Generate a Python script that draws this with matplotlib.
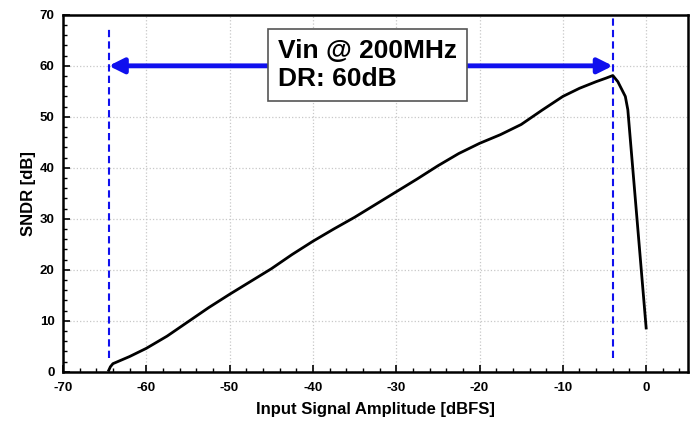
import matplotlib
matplotlib.use("Agg")
import matplotlib.pyplot as plt
from matplotlib.ticker import MultipleLocator

plt.rcParams['font.family'] = ['Liberation Sans', 'DejaVu Sans']
plt.rcParams['axes.unicode_minus'] = False

amp = [-64.5, -64.3, -64.0, -62, -60, -57.5, -55, -52.5, -50, -47.5, -45, -42.5, -40,
       -37.5, -35, -32.5, -30, -27.5, -25, -22.5, -20, -17.5, -15, -12.5, -10, -8,
       -6, -4.8, -4.0, -3.4, -2.5, -2.2, 0.0]
sndr = [0.3, 1.0, 1.6, 3.0, 4.6, 7.0, 9.8, 12.6, 15.2, 17.7, 20.2, 23.0, 25.6,
        28.0, 30.3, 32.8, 35.3, 37.8, 40.4, 42.8, 44.8, 46.5, 48.5, 51.3, 54.0, 55.6,
        56.9, 57.6, 58.1, 56.9, 54.0, 51.4, 8.6]

dr_lo, dr_hi = -64.5, -4.0
arrow_y = 60
box_text = "Vin @ 200MHz\nDR: 60dB"

fig = plt.figure(figsize=(6.99, 4.24), dpi=100)
ax = fig.add_axes([0.090, 0.123, 0.894, 0.842])

ax.set_xlim(-70, 5)
ax.set_ylim(0, 70)
ax.xaxis.set_major_locator(MultipleLocator(10))
ax.xaxis.set_minor_locator(MultipleLocator(2))
ax.yaxis.set_major_locator(MultipleLocator(10))
ax.yaxis.set_minor_locator(MultipleLocator(2))
ax.grid(True, which='major', color='#c8c8c8', linestyle=':', linewidth=0.9)
ax.tick_params(which='both', direction='in', top=False, right=False)
ax.tick_params(which='major', length=5, width=1.2, labelsize=9.5)
ax.tick_params(axis='x', which='major', pad=7)
ax.tick_params(axis='y', which='major', pad=6)
ax.tick_params(which='minor', length=3, width=1.0)
for lab in ax.get_xticklabels() + ax.get_yticklabels():
    lab.set_fontweight('bold')
for sp in ax.spines.values():
    sp.set_linewidth(1.8)

ax.set_xlabel('Input Signal Amplitude [dBFS]', fontsize=12, fontweight='bold', labelpad=6)
ax.set_ylabel('SNDR [dB]', fontsize=12, fontweight='bold', labelpad=3)

ax.plot(amp, sndr, color='black', linewidth=2.0, zorder=4)

ax.plot([dr_lo, dr_lo], [2.7, 67.5], color='#1010ee', linestyle=(0, (3.5, 2)), linewidth=1.5, zorder=3)
ax.plot([dr_hi, dr_hi], [2.7, 70], color='#1010ee', linestyle=(0, (3.5, 2)), linewidth=1.5, zorder=3)
ax.annotate('', xy=(dr_lo, arrow_y), xytext=(dr_hi, arrow_y),
            arrowprops=dict(arrowstyle='<|-|>', color='#1010ee', lw=3.5,
                            mutation_scale=22, shrinkA=0, shrinkB=0), zorder=3)

ax.text(-33.4, 60.2, box_text, fontsize=19, fontweight='bold', ha='center', va='center',
        multialignment='left', linespacing=1.2, zorder=5,
        bbox=dict(boxstyle='square,pad=0.38', facecolor='white', edgecolor='#555555', linewidth=1.2))

fig.savefig('out.png', dpi=100)
